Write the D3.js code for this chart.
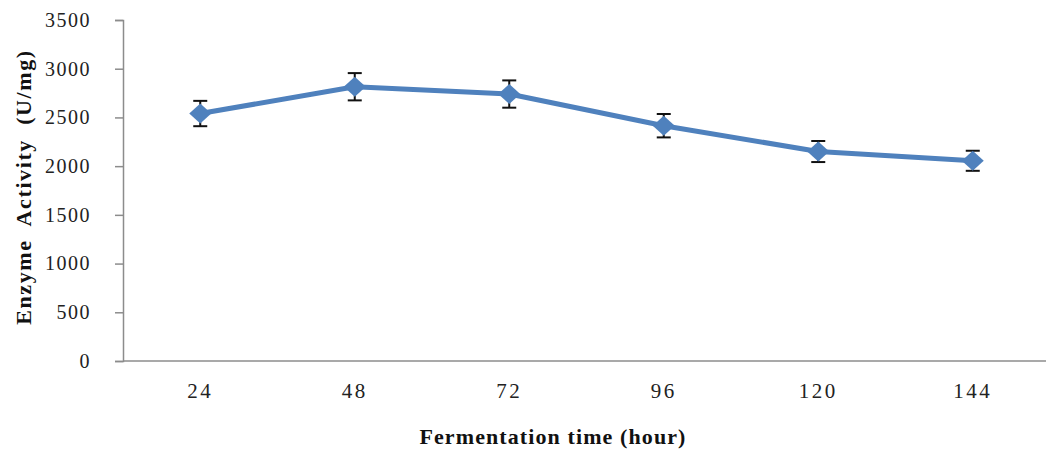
<!DOCTYPE html>
<html>
<head>
<meta charset="utf-8">
<script src="https://cdn.jsdelivr.net/npm/d3@7"></script>
<style>
  html, body { margin: 0; padding: 0; background: #fff; }
  svg { display: block; }
</style>
</head>
<body>
<svg id="chart" width="1046" height="451"></svg>
<script>
// Fermentation time (hours) and measured enzyme activity with standard deviation
const hours = ["24", "48", "72", "96", "120", "144"];
const activity = [2540, 2815, 2740, 2415, 2150, 2055];
const deviation = [130, 140, 140, 120, 108, 103];
const yTicks = [0, 500, 1000, 1500, 2000, 2500, 3000, 3500];

(function () {
const svg = d3.select("#chart");
const plotLeft = 123, plotRight = 1050, plotTop = 20, plotBottom = 361;

const x = d3.scaleBand().domain(hours).range([plotLeft, plotRight]).padding(0);
const y = d3.scaleLinear().domain([0, 3500]).range([plotBottom, plotTop]);
const cx = h => x(h) + x.bandwidth() / 2;

const axisColor = "#8c8c8c";
const serif = "'Liberation Serif', 'Times New Roman', serif";

// Y axis
const yAxis = svg.append("g")
  .attr("transform", `translate(${plotLeft},0)`)
  .call(d3.axisLeft(y).tickValues(yTicks).tickSize(8).tickPadding(24).tickFormat(d3.format("d")));
yAxis.select(".domain").attr("stroke", axisColor).attr("stroke-width", 1.5);
yAxis.selectAll(".tick line").attr("stroke", axisColor).attr("stroke-width", 1.5);
yAxis.selectAll(".tick text")
  .attr("font-family", serif).attr("font-size", 20).attr("fill", "#222")
  .attr("letter-spacing", 1.5);

// X axis
const xAxis = svg.append("g")
  .attr("transform", `translate(0,${plotBottom})`)
  .call(d3.axisBottom(x).tickSize(0).tickPadding(22));
xAxis.select(".domain").attr("d", `M${plotLeft},0H1046`).attr("stroke", axisColor).attr("stroke-width", 1.5);
xAxis.selectAll(".tick text")
  .attr("font-family", serif).attr("font-size", 21).attr("fill", "#222")
  .attr("letter-spacing", 2.5);

// Axis titles
svg.append("text")
  .attr("x", 553).attr("y", 444)
  .attr("text-anchor", "middle")
  .attr("font-family", serif).attr("font-weight", "bold").attr("font-size", 22).attr("fill", "#111")
  .attr("letter-spacing", 1.1)
  .text("Fermentation time (hour)");

svg.append("text")
  .attr("transform", "translate(31,187) rotate(-90)")
  .attr("text-anchor", "middle")
  .attr("font-family", serif).attr("font-weight", "bold").attr("font-size", 22).attr("fill", "#111")
  .attr("letter-spacing", 1.6)
  .attr("xml:space", "preserve")
  .text("Enzyme  Activity  (U/mg)");

const data = hours.map((h, i) => ({ h, v: activity[i], sd: deviation[i] }));
const blue = "#4f81bd";

// Series line
svg.append("path")
  .datum(data)
  .attr("fill", "none")
  .attr("stroke", blue)
  .attr("stroke-width", 5)
  .attr("stroke-linejoin", "round")
  .attr("d", d3.line().x(d => cx(d.h)).y(d => y(d.v)));

// Error bars
const err = svg.append("g").attr("stroke", "#111").attr("stroke-width", 2);
data.forEach(d => {
  const px = cx(d.h);
  err.append("line").attr("x1", px).attr("x2", px).attr("y1", y(d.v + d.sd)).attr("y2", y(d.v - d.sd));
  err.append("line").attr("x1", px - 7).attr("x2", px + 7).attr("y1", y(d.v + d.sd)).attr("y2", y(d.v + d.sd));
  err.append("line").attr("x1", px - 7).attr("x2", px + 7).attr("y1", y(d.v - d.sd)).attr("y2", y(d.v - d.sd));
});

// Diamond markers
svg.append("g").selectAll("path")
  .data(data)
  .join("path")
  .attr("transform", d => `translate(${cx(d.h)},${y(d.v)})`)
  .attr("d", "M0,-10L11,0L0,10L-11,0Z")
  .attr("fill", blue);
})();
</script>
</body>
</html>
